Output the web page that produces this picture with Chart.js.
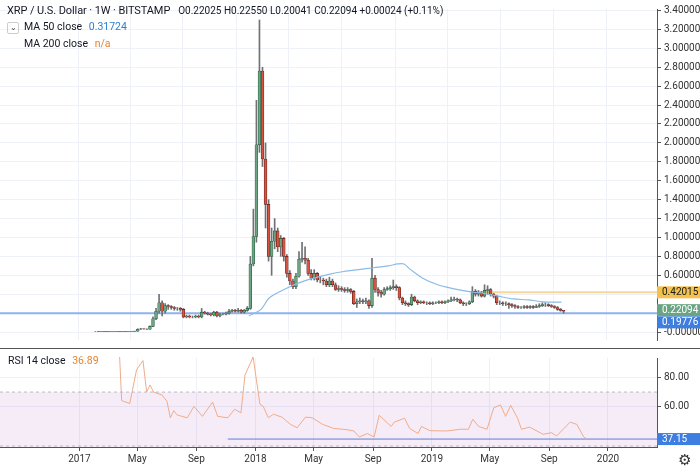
<!DOCTYPE html>
<html><head><meta charset="utf-8">
<script src="https://cdn.jsdelivr.net/npm/chart.js@4"></script>
<style>
body{margin:0;background:#fff;font-family:Roboto,"Open Sans",sans-serif;}
#wrap{position:relative;width:700px;height:469px;overflow:hidden;}
canvas{position:absolute;left:0;}
.t{position:absolute;white-space:nowrap;color:#131722;}
</style></head><body>
<div id="wrap">
<canvas id="main" style="top:0" width="700" height="349"></canvas>
<canvas id="rsi" style="top:349px" width="700" height="120"></canvas>
<div style="position:absolute;left:0;top:348px;width:700px;height:1px;background:#555"></div>
<div class="t" style="left:7px;top:4px;font-size:11px;letter-spacing:-0.1px">XRP / U.S. Dollar · 1W · BITSTAMP<span style="font-size:10px;margin-left:8px;letter-spacing:0">O0.22025 H0.22550 L0.20041 C0.22094 +0.00024 (+0.11%)</span></div>
<div style="position:absolute;left:7px;top:22px;width:10px;height:10px;border:1px solid #ccc;border-radius:2px;font-size:8px;line-height:10px;text-align:center;color:#444">⌄</div>
<div class="t" style="left:24px;top:20px;font-size:10.5px">MA 50 close <span style="color:#2e7fd0;margin-left:4px">0.31724</span></div>
<div class="t" style="left:24px;top:37px;font-size:10.5px">MA 200 close <span style="color:#e8822e;margin-left:4px">n/a</span></div>
<div class="t" style="left:8px;top:354px;font-size:10.5px">RSI 14 close <span style="color:#e8822e;margin-left:4px">36.89</span></div>
<div class="t" style="left:678px;top:451px;font-size:15px;color:#333">⚙</div>
</div>
<script>
// weekly candles, week index relative to 1 Jan 2017
const firstWeek = -3;
const closes = [0.0065,0.0064,0.0066,0.0065,0.0063,0.0067,0.0068,0.0070,0.0069,0.0071,0.0068,0.0070,0.0080,0.0090,
0.030,0.035,0.032,0.030,0.060,0.140,0.220,0.310,0.220,0.280,0.270,0.260,0.250,0.250,0.240,0.160,0.170,0.160,0.160,0.170,0.160,0.210,0.200,0.190,0.180,0.210,0.170,0.190,0.190,0.200,0.220,0.230,0.220,0.230,0.210,0.230,0.250,
0.72,1.01,1.98,2.76,1.83,1.35,0.80,0.96,1.07,0.90,0.99,0.80,0.62,0.54,0.48,0.59,0.77,0.78,0.76,0.62,0.57,0.62,0.55,0.55,0.54,0.50,
0.54,0.50,0.45,0.46,0.45,0.44,0.45,0.43,0.30,0.32,0.33,0.32,0.33,0.28,0.57,0.45,0.42,0.40,0.45,0.46,0.47,0.48,0.47,0.36,0.31,0.30,0.29,0.37,
0.33,0.31,0.32,0.31,0.31,0.30,0.31,0.31,0.32,0.31,0.32,0.33,0.34,0.35,0.34,0.31,0.30,0.30,0.32,0.43,0.40,0.41,0.38,0.44,0.45,0.40,0.38,0.31,0.31,0.30,0.30,0.29,0.28,0.27,
0.26,0.26,0.27,0.26,0.27,0.26,0.27,0.28,0.29,0.29,0.28,0.27,0.26,0.24,0.23,0.22094];
const highs = [0.007,0.007,0.007,0.007,0.007,0.007,0.007,0.0075,0.0075,0.0075,0.0075,0.0075,0.0085,0.0095,
0.035,0.040,0.038,0.034,0.065,0.16,0.25,0.40,0.33,0.30,0.29,0.28,0.27,0.26,0.26,0.25,0.18,0.18,0.17,0.18,0.18,0.25,0.22,0.21,0.20,0.22,0.22,0.20,0.20,0.21,0.24,0.24,0.24,0.25,0.24,0.24,0.27,
0.80,1.3,2.45,3.30,2.80,2.0,1.4,1.10,1.2,1.1,1.02,1.0,0.82,0.65,0.56,0.62,0.85,0.95,0.90,0.78,0.66,0.66,0.63,0.58,0.57,0.56,
0.58,0.56,0.52,0.49,0.48,0.47,0.47,0.46,0.44,0.35,0.36,0.35,0.36,0.34,0.78,0.60,0.47,0.44,0.47,0.48,0.49,0.55,0.50,0.48,0.37,0.33,0.31,0.40,
0.38,0.34,0.33,0.33,0.32,0.32,0.32,0.32,0.33,0.33,0.33,0.34,0.37,0.37,0.36,0.35,0.32,0.31,0.33,0.48,0.45,0.44,0.43,0.50,0.49,0.46,0.41,0.39,0.33,0.32,0.32,0.31,0.30,0.29,
0.28,0.27,0.28,0.28,0.28,0.28,0.29,0.30,0.31,0.31,0.30,0.29,0.28,0.27,0.25,0.2255];
const lows = [0.006,0.006,0.006,0.006,0.006,0.006,0.006,0.006,0.006,0.006,0.006,0.006,0.0065,0.0075,
0.008,0.028,0.030,0.028,0.029,0.058,0.13,0.20,0.17,0.20,0.24,0.24,0.23,0.23,0.22,0.15,0.15,0.15,0.15,0.15,0.15,0.15,0.19,0.18,0.17,0.17,0.16,0.16,0.18,0.18,0.19,0.21,0.21,0.21,0.20,0.20,0.22,
0.24,0.7,0.95,1.90,1.75,1.10,0.75,0.60,0.88,0.85,0.80,0.75,0.58,0.50,0.46,0.46,0.58,0.74,0.72,0.60,0.55,0.55,0.53,0.52,0.50,0.48,
0.48,0.48,0.44,0.43,0.43,0.42,0.42,0.41,0.29,0.26,0.30,0.30,0.30,0.25,0.26,0.42,0.38,0.37,0.39,0.44,0.44,0.45,0.44,0.34,0.29,0.28,0.27,0.28,
0.32,0.29,0.30,0.30,0.29,0.29,0.29,0.30,0.30,0.30,0.30,0.31,0.32,0.33,0.32,0.30,0.28,0.28,0.29,0.31,0.38,0.38,0.37,0.37,0.40,0.38,0.36,0.29,0.29,0.28,0.28,0.25,0.26,0.25,
0.25,0.25,0.25,0.25,0.25,0.25,0.26,0.26,0.27,0.27,0.27,0.26,0.25,0.23,0.22,0.2004];
const maWeeks = [47.5,51.5,54.2,59.1,64,68.9,73.8,78.7,83.6,88.5,93.4,96.5,98.5,100.7,104.7,109.6,114.6,119.5,124.5,129.4,134.4,139.4,144.3,150.3];
const maValues = [0.17,0.24,0.36,0.45,0.52,0.57,0.61,0.64,0.66,0.68,0.70,0.72,0.72,0.66,0.57,0.50,0.46,0.43,0.41,0.38,0.35,0.34,0.32,0.317];
const rsiWeeks = [11.9,12.5,14.9,16.9,18.8,19.9,20.9,21.9,24.4,25.9,26.9,27.9,28.9,31.9,33.9,36.4,39.4,40.9,43.9,45.9,47.8,49,51.4,53.4,54.4,55.9,57.4,59.9,62.4,64.4,66.9,68.9,71.9,75.2,79.2,81.2,82.8,85.2,87.2,88.7,92.2,93.2,96.2,97.7,100.2,101.2,103.7,108.7,112.7,115.1,116.4,118.1,120.6,122.6,124.6,126.1,127.6,129.6,130.8,133.2,137.2,139.7,141.2,145.2,147.2,149.2,150.2];
const rsiValues = [94.5,64,62,85.5,92,70,75,70,68,63.5,52,57,54,52,60,53,63,53,52,58,55.5,82,94.5,61.5,60,52,54.5,52.5,47.5,45,52.5,52,47.5,44.6,43.7,42.8,38.6,41,38.6,53.8,46,49,51.7,44.6,41,46,43,42.8,44,44,51,46,44,59,61,53,60.7,52,44,45.5,40.5,41.6,39.3,49,47.4,38.6,37.15];
const tickWeeks = [0,17.1,34.6,52.1,69.3,86.9,104.3,121.4,139,156.4];
const tickLabels = ['2017','May','Sep','2018','May','Sep','2019','May','Sep','2020'];
const lastClose = 0.22094, supportLevel = 0.19776, resistLevel = 0.42015, resistStart = 121.4;
const rsiLast = 37.15, rsiLineStart = 43.9;

const XMIN=-23.5, XMAX=170.9;
const bodies=[], wicks=[], bodyCol=[], bodyBorder=[];
for(let i=0;i<closes.length;i++){
  const w=firstWeek+i, o=i?closes[i-1]:closes[0], c=closes[i];
  bodies.push({x:w,y:[o,c]}); wicks.push({x:w,y:[lows[i],highs[i]]});
  const up=c>=o; bodyCol.push(up?'#6ba583':'#d75442'); bodyBorder.push(up?'#225437':'#5b1a13');
}
const ma = maWeeks.map((w,i)=>({x:w,y:maValues[i]}));
const rsi = rsiWeeks.map((w,i)=>({x:w,y:rsiValues[i]}));
const gridC='#eef1f7';
const xCommon = {type:'linear',min:XMIN,max:XMAX,
  afterBuildTicks:s=>{s.ticks=tickWeeks.map(v=>({value:v}));},
  grid:{color:gridC,tickLength:0},border:{display:false}};

function badge(ctx,y,txt,bg,fg){
  ctx.fillStyle=bg; ctx.fillRect(657,y-6,43,12);
  ctx.fillStyle=fg; ctx.font='10px Roboto'; ctx.textBaseline='middle'; ctx.textAlign='left';
  ctx.fillText(txt,662,y+0.5);
}
const mainPlug={id:'mainPlug',
  beforeDatasetsDraw(ch){const {ctx,scales:{x,y}}=ch;
    ctx.save();
    ctx.strokeStyle='#f6d99a';ctx.lineWidth=2;ctx.beginPath();ctx.moveTo(x.getPixelForValue(resistStart),y.getPixelForValue(resistLevel));ctx.lineTo(657,y.getPixelForValue(resistLevel));ctx.stroke();
    ctx.strokeStyle='#8fb2ee';ctx.lineWidth=2;ctx.beginPath();ctx.moveTo(0,y.getPixelForValue(supportLevel));ctx.lineTo(657,y.getPixelForValue(supportLevel));ctx.stroke();
    ctx.restore();},
  afterDraw(ch){const {ctx,scales:{y}}=ch; ctx.save();
    badge(ctx,y.getPixelForValue(resistLevel),resistLevel.toFixed(5),'#f2c14e','#1a1a1a');
    badge(ctx,y.getPixelForValue(lastClose)-1,lastClose.toFixed(5),'#6aa583','#fff');
    badge(ctx,y.getPixelForValue(supportLevel)+9,supportLevel.toFixed(5),'#3d7ee0','#fff');
    ctx.restore();}
};
new Chart(document.getElementById('main'),{
  data:{datasets:[
    {type:'bar',data:wicks,backgroundColor:'#6f7177',barThickness:1,grouped:false,order:3},
    {type:'bar',data:bodies,backgroundColor:bodyCol,borderColor:bodyBorder,borderWidth:0.6,borderSkipped:false,barThickness:2.8,grouped:false,order:2},
    {type:'line',data:ma,borderColor:'#8bbbe6',borderWidth:1.2,pointRadius:0,tension:0.3,order:1}
  ]},
  options:{responsive:false,animation:false,events:[],layout:{padding:0},
    plugins:{legend:{display:false},tooltip:{enabled:false}},
    scales:{
      x:{...xCommon,ticks:{display:false},afterFit:s=>{s.height=0;}},
      y:{position:'right',min:-0.084,max:3.416,
        afterBuildTicks:s=>{const t=[];for(let k=0;k<=17;k++)t.push({value:Math.round(k*2)/10});s.ticks=t;},
        ticks:{color:'#333',font:{size:10,family:'Roboto'},padding:3,
          callback:v=>Math.abs(v)<1e-9?'-0.00000':v.toFixed(5)},
        grid:{color:gridC,tickLength:4,tickColor:'#555'},border:{color:'#555'},
        afterFit:s=>{s.width=43;}}
    }},
  plugins:[mainPlug]
});
const rsiPlug={id:'rsiPlug',
  beforeDatasetsDraw(ch){const {ctx,chartArea:a,scales:{x,y}}=ch; ctx.save();
    const y70=y.getPixelForValue(70), y30=Math.min(y.getPixelForValue(30),a.bottom);
    ctx.fillStyle='rgba(156,39,176,0.09)'; ctx.fillRect(a.left,y70,a.right-a.left,y30-y70);
    ctx.setLineDash([3,3]); ctx.strokeStyle='#b9b9c4'; ctx.lineWidth=1;
    ctx.beginPath();ctx.moveTo(a.left,y70);ctx.lineTo(a.right,y70);ctx.stroke();
    ctx.beginPath();ctx.moveTo(a.left,a.bottom-1);ctx.lineTo(a.right,a.bottom-1);ctx.stroke();
    ctx.setLineDash([]);
    ctx.strokeStyle='#5b7fd6';ctx.beginPath();ctx.moveTo(x.getPixelForValue(rsiLineStart),y.getPixelForValue(rsiLast));ctx.lineTo(a.right,y.getPixelForValue(rsiLast));ctx.stroke();
    ctx.restore();},
  afterDraw(ch){const {ctx,scales:{y}}=ch; ctx.save(); badge(ctx,y.getPixelForValue(rsiLast),rsiLast.toFixed(2),'#3d7ee0','#fff'); ctx.restore();}
};
new Chart(document.getElementById('rsi'),{
  data:{datasets:[{type:'line',data:rsi,borderColor:'#eeac8a',borderWidth:1,pointRadius:0,tension:0,clip:false}]},
  options:{responsive:false,animation:false,events:[],layout:{padding:0},
    plugins:{legend:{display:false},tooltip:{enabled:false}},
    scales:{
      x:{...xCommon,grid:{color:gridC,tickLength:4,tickColor:'#555'},border:{display:true,color:'#555'},
        ticks:{color:'#333',font:{size:10,family:'Roboto'},padding:2,maxRotation:0,autoSkip:false,
          callback:(v,i)=>tickLabels[i]},
        afterFit:s=>{s.height=22;}},
      y:{position:'right',min:31.6,max:93.8,
        afterBuildTicks:s=>{s.ticks=[60,80].map(v=>({value:v}));},
        ticks:{color:'#333',font:{size:10,family:'Roboto'},padding:3,callback:v=>v.toFixed(2)},
        grid:{color:gridC,tickLength:4,tickColor:'#555'},border:{color:'#555'},
        afterFit:s=>{s.width=43;}}
    }},
  plugins:[rsiPlug]
});
</script></body></html>
